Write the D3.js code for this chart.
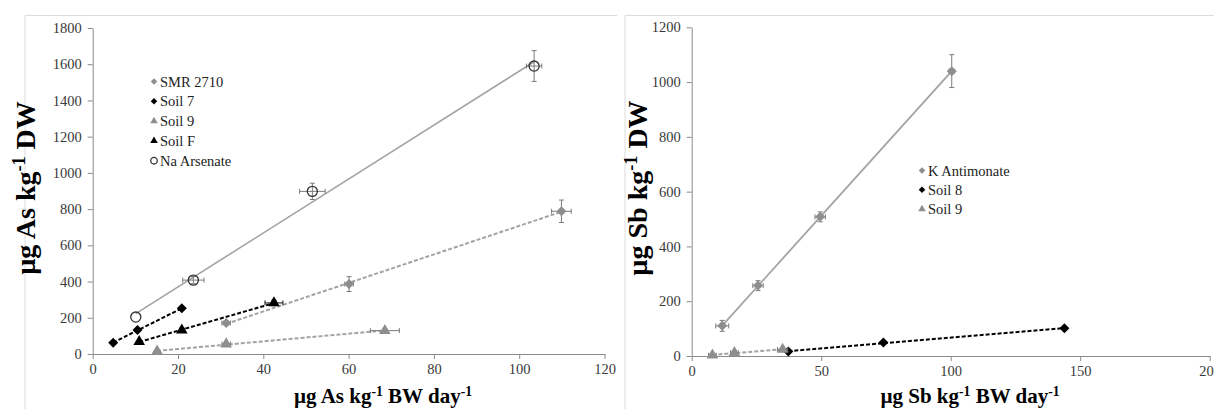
<!DOCTYPE html>
<html>
<head>
<meta charset="utf-8">
<script src="https://cdn.jsdelivr.net/npm/d3@7"></script>
<style>
    body { margin: 0; background: #fff; }
    svg { display: block; }
</style>
</head>
<body>
<div id="chart"></div>
<script>
// ---------- left panel : arsenic ----------
const asXTicks = [0, 20, 40, 60, 80, 100, 120];
const asYTicks = [0, 200, 400, 600, 800, 1000, 1200, 1400, 1600, 1800];

// SMR 2710
const smrX = [31.3, 60.1, 109.9];
const smrY = [171, 386, 788];
const smrXErr = [1, 1, 2.3];
const smrYErr = [12, 41, 62];
// Soil 7
const soil7X = [4.8, 10.5, 20.9];
const soil7Y = [62, 132, 252];
// Soil 9 (As)
const soil9AsX = [15.1, 31.3, 68.5];
const soil9AsY = [15, 55, 129];
const soil9AsXErr = [0, 1, 3.4];
const soil9AsYErr = [0, 5, 10];
// Soil F
const soilFX = [10.9, 20.9, 42.5];
const soilFY = [68, 132, 282];
const soilFXErr = [0, 0.5, 2.1];
const soilFYErr = [0, 8, 15];
// Na Arsenate
const naX = [10.1, 23.6, 51.5, 103.5];
const naY = [204, 408, 898, 1590];
const naXErr = [0, 2.5, 3, 1.8];
const naYErr = [0, 20, 45, 85];

// ---------- right panel : antimony ----------
const sbXTicks = [0, 50, 100, 150, 200];
const sbYTicks = [0, 200, 400, 600, 800, 1000, 1200];

// K Antimonate
const kX = [11.8, 25.6, 49.6, 100.4];
const kY = [110, 257, 508, 1040];
const kXErr = [2.5, 2, 2, 1];
const kYErr = [20, 18, 18, 60];
// Soil 8
const soil8X = [37.3, 74, 143.9];
const soil8Y = [16, 49, 101];
// Soil 9 (Sb)
const soil9SbX = [8, 16.5, 35.1];
const soil9SbY = [3, 12, 24];
const soil9SbXErr = [1.5, 1.5, 2];
const soil9SbYErr = [6, 6, 8];

const GREY = "#8e8e8e";
const GREY_LINE = "#a3a3a3";
const BLACK = "#000";
const SERIF = '"Liberation Serif", "DejaVu Serif", serif';

main();

function main() {
    const svg = d3.select("#chart")
        .append("svg")
        .attr("width", 1214)
        .attr("height", 409);

    // faint chart-area frames
    const frame = svg.append("g").attr("stroke", "#dcdcdc").attr("fill", "none");
    frame.append("path").attr("d", "M25,409V15.5H617");
    frame.append("path").attr("d", "M625,409V15.5H1214");

    // series tables built from the arrays above
    const asSeries = [
        { name: "SMR 2710", x: smrX, y: smrY, xe: smrXErr, ye: smrYErr, shape: "diamond", color: GREY, line: GREY_LINE, dash: "4,2", width: 2 },
        { name: "Soil 7", x: soil7X, y: soil7Y, shape: "diamond", color: BLACK, line: BLACK, dash: "4,2", width: 2 },
        { name: "Soil 9", x: soil9AsX, y: soil9AsY, xe: soil9AsXErr, ye: soil9AsYErr, shape: "triangle", color: GREY, line: GREY_LINE, dash: "4,2", width: 2 },
        { name: "Soil F", x: soilFX, y: soilFY, xe: soilFXErr, ye: soilFYErr, shape: "triangle", color: BLACK, line: BLACK, dash: "4,2", width: 2 },
        { name: "Na Arsenate", x: naX, y: naY, xe: naXErr, ye: naYErr, shape: "circle", color: "#333", line: GREY_LINE, dash: null, width: 1.6 }
    ];
    const sbSeries = [
        { name: "K Antimonate", x: kX, y: kY, xe: kXErr, ye: kYErr, shape: "diamond", color: GREY, line: GREY_LINE, dash: null, width: 1.8 },
        { name: "Soil 8", x: soil8X, y: soil8Y, shape: "diamond", color: BLACK, line: BLACK, dash: "4,2", width: 2 },
        { name: "Soil 9", x: soil9SbX, y: soil9SbY, xe: soil9SbXErr, ye: soil9SbYErr, shape: "triangle", color: GREY, line: GREY_LINE, dash: "4,2", width: 2 }
    ];

    drawPanel(svg, {
        series: asSeries,
        xDomain: [0, 120], xRange: [92.7, 604.5], xTicks: asXTicks,
        yDomain: [0, 1800], yRange: [354, 28], yTicks: asYTicks,
        legend: [154, 81.5], legendStep: 19.8,
        yTitle: ["µg As kg", "-1", " DW"], yTitlePos: [25, 188],
        xTitle: ["µg As kg", "-1", " BW day", "-1"], xTitlePos: [383, 403]
    });
    drawPanel(svg, {
        series: sbSeries,
        xDomain: [0, 200], xRange: [691.7, 1209.7], xTicks: sbXTicks,
        yDomain: [0, 1200], yRange: [356, 27.3], yTicks: sbYTicks,
        legend: [922, 170.5], legendStep: 19.3,
        yTitle: ["µg Sb kg", "-1", " DW"], yTitlePos: [637, 188],
        xTitle: ["µg Sb kg", "-1", " BW day", "-1"], xTitlePos: [970, 403]
    });
}

// draws one scatter panel with trendlines, error bars, axes and legend
function drawPanel(svg, c) {
    const x = d3.scaleLinear().domain(c.xDomain).range(c.xRange);
    const y = d3.scaleLinear().domain(c.yDomain).range(c.yRange);
    const g = svg.append("g");

    // axes
    const xAxis = g.append("g")
        .attr("transform", "translate(0," + c.yRange[0] + ")")
        .call(d3.axisBottom(x).tickValues(c.xTicks).tickFormat(d3.format("d"))
            .tickSize(5).tickSizeOuter(0).tickPadding(5));
    const yAxis = g.append("g")
        .attr("transform", "translate(" + c.xRange[0] + ",0)")
        .call(d3.axisLeft(y).tickValues(c.yTicks).tickFormat(d3.format("d"))
            .tickSize(5).tickSizeOuter(0).tickPadding(6));
    [xAxis, yAxis].forEach(a => {
        a.attr("font-family", SERIF).attr("font-size", 14.5);
        a.select(".domain").attr("stroke", "#8a8a8a");
        a.selectAll(".tick line").attr("stroke", "#8a8a8a");
        a.selectAll(".tick text").attr("fill", "#3a3a3a");
    });

    c.series.forEach(s => {
        const pts = s.x.map((v, i) => ({ x: v, y: s.y[i], xe: s.xe ? s.xe[i] : 0, ye: s.ye ? s.ye[i] : 0 }));

        // linear trendline (least squares) across the x range of the series
        const mx = d3.mean(pts, d => d.x), my = d3.mean(pts, d => d.y);
        const slope = d3.sum(pts, d => (d.x - mx) * (d.y - my)) / d3.sum(pts, d => (d.x - mx) * (d.x - mx));
        const x0 = d3.min(pts, d => d.x), x1 = d3.max(pts, d => d.x);
        g.append("line")
            .attr("x1", x(x0)).attr("y1", y(my + slope * (x0 - mx)))
            .attr("x2", x(x1)).attr("y2", y(my + slope * (x1 - mx)))
            .attr("stroke", s.line)
            .attr("stroke-width", s.width)
            .attr("stroke-dasharray", s.dash);

        // error bars
        const eb = g.append("g").attr("stroke", s.color === BLACK ? "#111" : "#7a7a7a").attr("stroke-width", 1);
        pts.filter(d => d.xe > 0).forEach(d => {
            const cy = y(d.y), a = x(d.x - d.xe), b = x(d.x + d.xe);
            eb.append("path").attr("d", `M${a},${cy}H${b}M${a},${cy - 2.5}V${cy + 2.5}M${b},${cy - 2.5}V${cy + 2.5}`);
        });
        pts.filter(d => d.ye > 0).forEach(d => {
            const cx = x(d.x), a = y(d.y - d.ye), b = y(d.y + d.ye);
            eb.append("path").attr("d", `M${cx},${a}V${b}M${cx - 2.5},${a}H${cx + 2.5}M${cx - 2.5},${b}H${cx + 2.5}`);
        });

        // markers
        g.append("g").selectAll("path")
            .data(pts)
            .enter()
            .append("path")
            .attr("transform", d => "translate(" + x(d.x) + "," + y(d.y) + ")")
            .each(function () { styleMarker(d3.select(this), s, 1); });
    });

    // legend
    const lg = g.append("g")
        .attr("font-family", SERIF)
        .attr("font-size", 14.5)
        .attr("fill", "#222");
    c.series.forEach((s, i) => {
        const row = lg.append("g")
            .attr("transform", "translate(" + c.legend[0] + "," + (c.legend[1] + i * c.legendStep) + ")");
        styleMarker(row.append("path"), s, 0.65);
        row.append("text").attr("x", 6).attr("dy", "0.35em").text(s.name);
    });

    // axis titles with superscripts
    titleText(g, c.yTitle, 28)
        .attr("transform", "translate(" + c.yTitlePos[0] + "," + c.yTitlePos[1] + ") rotate(-90)")
        .attr("dy", "0.35em");
    titleText(g, c.xTitle, 21)
        .attr("transform", "translate(" + c.xTitlePos[0] + "," + c.xTitlePos[1] + ")");
}

function styleMarker(sel, s, k) {
    if (s.shape === "diamond") {
        const r = 5 * k;
        sel.attr("d", `M0,${-r}L${r},0L0,${r}L${-r},0Z`).attr("fill", s.color);
    } else if (s.shape === "triangle") {
        sel.attr("d", d3.symbol(d3.symbolTriangle, 58 * k * k)()).attr("fill", s.color);
    } else {
        sel.attr("d", d3.symbol(d3.symbolCircle, 80 * k * k)())
            .attr("fill", "none").attr("stroke", s.color).attr("stroke-width", 1.3);
    }
}

function titleText(g, parts, size) {
    const t = g.append("text")
        .attr("font-family", SERIF)
        .attr("font-weight", "bold")
        .attr("text-anchor", "middle")
        .attr("font-size", size);
    parts.forEach((p, i) => {
        const sup = i % 2 === 1;
        t.append("tspan")
            .attr("font-size", sup ? size * 0.65 : size)
            .attr("baseline-shift", sup ? "super" : null)
            .text(p);
    });
    return t;
}
</script>
</body>
</html>
